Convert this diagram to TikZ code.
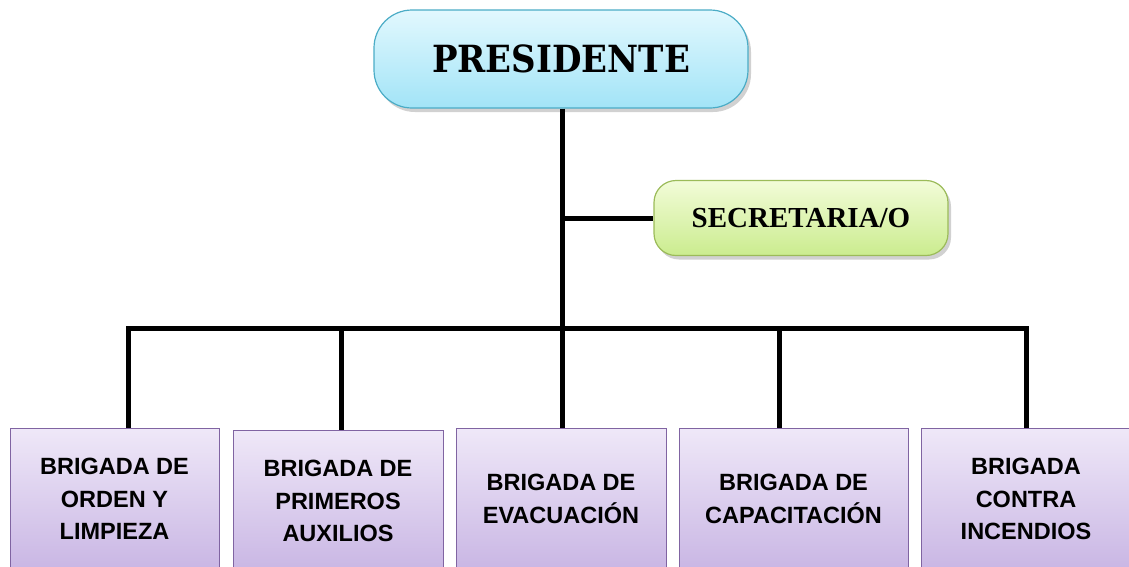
\documentclass[tikz,border=0pt]{standalone}
\usepackage{fontspec}
\setmainfont{Liberation Serif}
\newfontfamily\boxfont{Liberation Sans}
\newfontfamily\presfont{DejaVu Serif}
\usetikzlibrary{shadows}
\definecolor{presborder}{HTML}{4BACC6}
\definecolor{prestop}{HTML}{E2F8FE}
\definecolor{presbot}{HTML}{A2E4F7}
\definecolor{secborder}{HTML}{9BBB59}
\definecolor{sectop}{HTML}{F2FCD8}
\definecolor{secbot}{HTML}{CBEC8F}
\definecolor{brborder}{HTML}{8064A2}
\definecolor{brtop}{HTML}{EFE8F8}
\definecolor{brbot}{HTML}{C9B6E4}
\tikzset{
  presbox/.style={draw=presborder, line width=1.2pt, rounded corners=38pt,
    top color=prestop, bottom color=presbot,
    drop shadow={shadow xshift=3pt, shadow yshift=-4pt, opacity=0.3, fill=black!60},
    minimum width=374pt, minimum height=98pt, inner sep=0pt,
    font=\presfont\bfseries\fontsize{34}{38}\selectfont},
  secbox/.style={draw=secborder, line width=1.2pt, rounded corners=22pt,
    top color=sectop, bottom color=secbot,
    drop shadow={shadow xshift=3pt, shadow yshift=-4pt, opacity=0.3, fill=black!60},
    minimum width=294pt, minimum height=75pt, inner sep=0pt,
    font=\bfseries\fontsize{29}{32}\selectfont},
  brbox/.style={draw=brborder, line width=1pt,
    top color=brtop, bottom color=brbot,
    minimum height=142pt, inner sep=0pt, align=center,
    font=\boxfont\bfseries\fontsize{23.5}{32.5}\selectfont},
  conn/.style={line width=5pt, black}
}
\begin{document}
\begin{tikzpicture}[x=1pt,y=-1pt]
\useasboundingbox (0,0) rectangle (1129,566);
\node[presbox] (pres) at (561,59) {\scalebox{1}[1.1]{PRESIDENTE}};
\node[secbox] (sec) at (801,218) {SECRETARIA/O};
\node[brbox, minimum width=209pt] (b1) at (114.5,499) {BRIGADA DE\\ORDEN Y\\LIMPIEZA};
\node[brbox, minimum width=210pt] (b2) at (338,501) {BRIGADA DE\\PRIMEROS\\AUXILIOS};
\node[brbox, minimum width=210pt] (b3) at (561,499) {BRIGADA DE\\EVACUACIÓN};
\node[brbox, minimum width=229pt] (b4) at (793.5,499) {BRIGADA DE\\CAPACITACIÓN};
\node[brbox, minimum width=210pt] (b5) at (1026,499) {BRIGADA\\CONTRA\\INCENDIOS};
\coordinate (d1) at (128,328);
\coordinate (d2) at (341,328);
\coordinate (hub) at (562,328);
\coordinate (d4) at (779,328);
\coordinate (d5) at (1026,328);
\draw[conn] (hub |- pres.south) -- (hub);
\draw[conn] (hub |- sec.west) -- (sec.west);
\draw[conn, line cap=rect] (d1) -- (d5);
\draw[conn] (d1) -- (d1 |- b1.north);
\draw[conn] (d2) -- (d2 |- b2.north);
\draw[conn] (hub) -- (hub |- b3.north);
\draw[conn] (d4) -- (d4 |- b4.north);
\draw[conn] (d5) -- (d5 |- b5.north);
\end{tikzpicture}
\end{document}
